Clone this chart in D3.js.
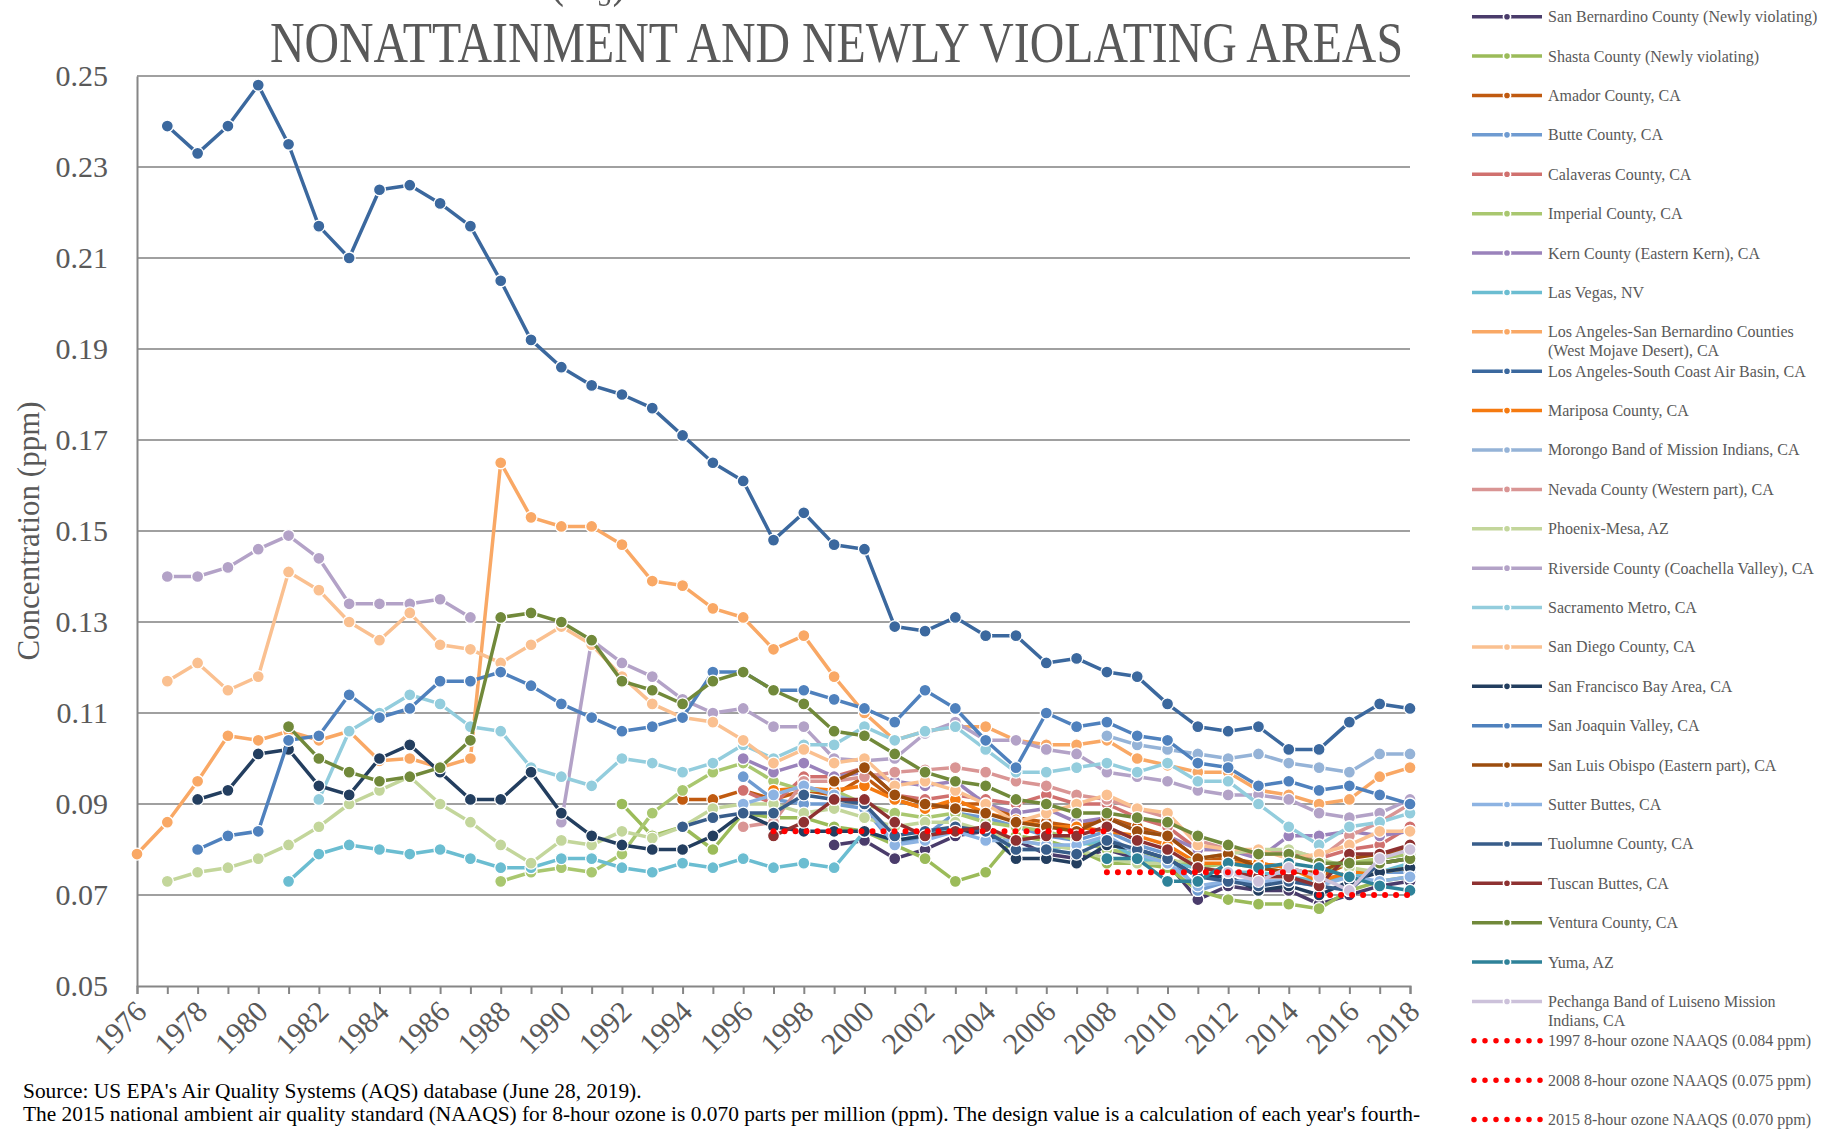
<!DOCTYPE html>
<html>
<head>
<meta charset="utf-8">
<script src="https://cdn.jsdelivr.net/npm/d3@7"></script>
<style>
  body { margin: 0; background: #fff; }
  text { font-family: "Liberation Serif", "Times New Roman", serif; }
</style>
</head>
<body>
<div id="chart"></div>
<script>
// ozone design values, nonattainment + newly violating areas

var years = d3.range(1976, 2019);
var xTickLabels = ["1976", "1978", "1980", "1982", "1984", "1986", "1988", "1990", "1992", "1994", "1996",
  "1998", "2000", "2002", "2004", "2006", "2008", "2010", "2012", "2014", "2016", "2018"];
var yTicks = [0.05, 0.07, 0.09, 0.11, 0.13, 0.15, 0.17, 0.19, 0.21, 0.23, 0.25];

// each series starts at its own first year (see seriesTable)
var sanBernardino = [.081, .082, .078, .080, .083, .084, .082, .079, .078, .080,
  .078, .077, .069, .072, .071, .071, .068, .070, .072, .073];
var shasta = [.090, .083, .085, .080, .088, .087, .087, .085, .084, .081,
  .078, .073, .075, .083, .082, .080, .077, .077, .076, .071,
  .069, .068, .068, .067, .071, .073, .074];
var amador = [.091, .091, .093, .091, .093, .092, .096, .091, .089, .090,
  .090, .087, .086, .085, .087, .085, .083, .078, .078, .077,
  .076, .074, .077, .077, .078];
var butte = [.096, .091, .090, .090, .089, .081, .083, .088, .087, .085,
  .083, .082, .084, .081, .079, .071, .073, .073, .073, .073,
  .075, .075, .075];
var calaveras = [.093, .090, .096, .096, .098, .092, .091, .092, .091, .090,
  .092, .090, .090, .087, .085, .080, .080, .079, .079, .078,
  .080, .081, .085];
var imperial = [.073, .075, .076, .075, .079, .088, .093, .097, .099, .095,
  .093, .093, .090, .088, .087, .088, .086, .085, .084, .082,
  .080, .079, .078, .076, .077, .076, .075, .075, .077, .078,
  .079];
var kern = [.100, .097, .099, .096, .097, .095, .094, .095, .090, .088,
  .089, .086, .087, .084, .083, .080, .080, .078, .083, .083,
  .084, .083, .084];
var lasVegas = [.073, .079, .081, .080, .079, .080, .078, .076, .076, .078,
  .078, .076, .075, .077, .076, .078, .076, .077, .076, .084,
  .082, .083, .085, .084, .080, .080, .081, .082, .078, .077,
  .076, .075, .075, .074, .073, .074, .075, .077];
var laWestMojave = [.079, .086, .095, .105, .104, .106, .104, .106, .0995, .100,
  .098, .100, .165, .153, .151, .151, .147, .139, .138, .133,
  .131, .124, .127, .118, .110, .104, .106, .107, .107, .104,
  .103, .103, .104, .100, .0985, .097, .097, .093, .092, .090,
  .091, .096, .098];
var laSouthCoast = [.239, .233, .239, .248, .235, .217, .210, .225, .226, .222,
  .217, .205, .192, .186, .182, .180, .177, .171, .165, .161,
  .148, .154, .147, .146, .129, .128, .131, .127, .127, .121,
  .122, .119, .118, .112, .107, .106, .107, .102, .102, .108,
  .112, .111];
var mariposa = [.093, .0935, .093, .094, .091, .089, .091, .088, .0865, .085,
  .085, .084, .083, .081, .077, .077, .077, .076, .073, .075,
  .075, .076];
var morongo = [.105, .103, .102, .101, .100, .101, .099, .098, .097, .101, .101];
var nevada = [.085, .086, .095, .095, .096, .097, .0975, .098, .097, .095,
  .094, .092, .091, .089, .087, .082, .080, .079, .080, .078,
  .083, .086, .090];
var phoenix = [.073, .075, .076, .078, .081, .085, .090, .093, .096, .090,
  .086, .081, .077, .082, .081, .084, .0825, .085, .089, .090,
  .090, .088, .089, .087, .085, .086, .086, .084, .082, .081,
  .080, .078, .077, .077, .078, .079, .080, .080, .078, .076,
  .075, .076];
var riverside = [.140, .140, .142, .146, .149, .144, .134, .134, .134, .135,
  .131, null, null, .086, .126, .121, .118, .113, .110, .111,
  .107, .107, .100, .0995, .100, .1055, .108, .104, .104, .102,
  .101, .097, .096, .095, .093, .092, .092, .091, .088, .087,
  .088, .091];
var sacramento = [.091, .106, .110, .114, .112, .107, .106, .098, .096, .094,
  .100, .099, .097, .099, .103, .100, .103, .103, .107, .104,
  .106, .107, .102, .097, .097, .098, .099, .097, .099, .095,
  .095, .090, .085, .081, .085, .086, .088];
var sanDiego = [.117, .121, .115, .118, .141, .137, .130, .126, .132, .125,
  .124, .121, .125, .129, .125, .118, .112, .109, .108, .104,
  .099, .102, .099, .100, .094, .095, .093, .090, .086, .088,
  .090, .092, .089, .088, .081, .080, .080, .078, .079, .081,
  .084, .084];
var sfBay = [.091, .093, .101, .102, .094, .092, .100, .103, .097, .091,
  .091, .097, .088, .083, .081, .080, .080, .083, .088, .085,
  .084, .084, .084, .082, .083, .084, .084, .078, .078, .077,
  .081, .080, .078, .074, .074, .071, .072, .070, .073, .075,
  .076];
var sanJoaquin = [.080, .083, .084, .104, .105, .114, .109, .111, .117, .117,
  .119, .116, .112, .109, .106, .107, .109, .119, .119, .115,
  .115, .113, .111, .108, .115, .111, .104, .098, .110, .107,
  .108, .105, .104, .099, .098, .094, .095, .093, .094, .092,
  .090];
var sanLuisObispo = [.095, .098, .092, .090, .089, .088, .086, .085, .084, .087,
  .084, .083, .078, .079, .076, .075, .075, .078, .079, .080];
var sutter = [.090, .092, .094, .092, .090, .081, .082, .084, .082, .082,
  .081, .081, .083, .079, .077, .072, .073, .073, .073, .072,
  .074, .073, .074];
var tuolumne = [.085, .087, .088, .088, .092, .091, .090, .083, .084, .085,
  .084, .080, .080, .079, .082, .080, .078, .074, .073, .072,
  .073, .072, .071, .077, .078];
var tuscan = [.083, .086, .091, .091, .086, .083, .084, .085, .082, .083,
  .083, .085, .082, .080, .076, .075, .074, .074, .072, .079,
  .079, .081];
var ventura = [.107, .100, .097, .095, .096, .098, .104, .131, .132, .130,
  .126, .117, .115, .112, .117, .119, .115, .112, .106, .105,
  .101, .097, .095, .094, .091, .090, .088, .088, .087, .086,
  .083, .081, .079, .079, .077, .077, .077, .078];
var yuma = [.078, .078, .073, .073, .077, .076, .077, .076, .074, .072, .071];
var pechanga = [.075, .073, .076, .074, .071, .078, .080];

// NAAQS reference lines: [value, fromYear, toYear]
var naaqs1997 = [0.084, 1997, 2008];
var naaqs2008 = [0.075, 2008, 2015];
var naaqs2015 = [0.070, 2015, 2018];

var seriesTable = [
  { name: "San Bernardino County (Newly violating)", color: "#4a3c6b", start: 1999, values: sanBernardino },
  { name: "Shasta County (Newly violating)", color: "#9bbb59", start: 1992, values: shasta },
  { name: "Amador County, CA", color: "#c05a10", start: 1994, values: amador },
  { name: "Butte County, CA", color: "#6f9bd1", start: 1996, values: butte },
  { name: "Calaveras County, CA", color: "#d0706e", start: 1996, values: calaveras },
  { name: "Imperial County, CA", color: "#a9c76f", start: 1988, values: imperial },
  { name: "Kern County (Eastern Kern), CA", color: "#9a82bb", start: 1996, values: kern },
  { name: "Las Vegas, NV", color: "#6bbdd1", start: 1981, values: lasVegas },
  { name: "Los Angeles-San Bernardino Counties\n(West Mojave Desert), CA", color: "#f9a865", start: 1976, values: laWestMojave },
  { name: "Los Angeles-South Coast Air Basin, CA", color: "#3b689e", start: 1977, values: laSouthCoast },
  { name: "Mariposa County, CA", color: "#f57a10", start: 1997, values: mariposa },
  { name: "Morongo Band of Mission Indians, CA", color: "#95b3d7", start: 2008, values: morongo },
  { name: "Nevada County (Western part), CA", color: "#d99594", start: 1996, values: nevada },
  { name: "Phoenix-Mesa, AZ", color: "#c3d69b", start: 1977, values: phoenix },
  { name: "Riverside County (Coachella Valley), CA", color: "#b3a2c7", start: 1977, values: riverside },
  { name: "Sacramento Metro, CA", color: "#93cddd", start: 1982, values: sacramento },
  { name: "San Diego County, CA", color: "#fac090", start: 1977, values: sanDiego },
  { name: "San Francisco Bay Area, CA", color: "#233e5f", start: 1978, values: sfBay },
  { name: "San Joaquin Valley, CA", color: "#4f81bd", start: 1978, values: sanJoaquin },
  { name: "San Luis Obispo (Eastern part), CA", color: "#9c4d0e", start: 1999, values: sanLuisObispo },
  { name: "Sutter Buttes, CA", color: "#8db3e2", start: 1996, values: sutter },
  { name: "Tuolumne County, CA", color: "#385d8a", start: 1994, values: tuolumne },
  { name: "Tuscan Buttes, CA", color: "#8e3131", start: 1997, values: tuscan },
  { name: "Ventura County, CA", color: "#71893a", start: 1981, values: ventura },
  { name: "Yuma, AZ", color: "#2e8299", start: 2008, values: yuma },
  { name: "Pechanga Band of Luiseno Mission\nIndians, CA", color: "#ccc1da", start: 2012, values: pechanga }
];
var refTable = [
  { name: "1997 8-hour ozone NAAQS (0.084 ppm)", def: naaqs1997 },
  { name: "2008 8-hour ozone NAAQS (0.075 ppm)", def: naaqs2008 },
  { name: "2015 8-hour ozone NAAQS (0.070 ppm)", def: naaqs2015 }
];

var titleTop = "OZONE (O\u2083) DESIGN VALUES";
var titleMain = "NONATTAINMENT AND NEWLY VIOLATING AREAS";
var sourceLines = [
  "Source: US EPA's Air Quality Systems (AQS) database (June 28, 2019).",
  "The 2015 national ambient air quality standard (NAAQS) for 8-hour ozone is 0.070 parts per million (ppm). The design value is a calculation of each year's fourth-"
];

var W = 1835, H = 1130;
var plot = { left: 137, right: 1410, top: 76, bottom: 986 };
var grey = "#595959";

var svg = d3.select("#chart").append("svg")
  .attr("width", W).attr("height", H)
  .style("background", "#fff");

var x = d3.scaleLinear().domain([1976, 2018]).range([plot.left, plot.right]);
var y = d3.scaleLinear().domain([0.05, 0.25]).range([plot.bottom, plot.top]);

// titles (first line sits mostly above the top edge, as in the original)
var t1 = svg.append("text")
  .attr("font-size", 58).attr("fill", grey)
  .text(titleTop);
var pre = t1.node().getSubStringLength(0, titleTop.indexOf("("));
t1.attr("transform", "translate(" + (549 - pre * 0.78) + ",-5) scale(0.78,1)");

svg.append("text")
  .attr("x", 270).attr("y", 62)
  .attr("font-size", 58).attr("fill", grey)
  .attr("textLength", 1133).attr("lengthAdjust", "spacingAndGlyphs")
  .text(titleMain);

// gridlines
svg.append("g").selectAll("line")
  .data(yTicks.slice(1))
  .join("line")
  .attr("x1", plot.left).attr("x2", plot.right)
  .attr("y1", d => y(d)).attr("y2", d => y(d))
  .attr("stroke", "#a0a0a0").attr("stroke-width", 2);

// y axis
var yAxis = svg.append("g")
  .attr("transform", "translate(" + plot.left + ",0)")
  .call(d3.axisLeft(y).tickValues(yTicks).tickFormat(d3.format(".2f")).tickSize(0).tickPadding(29));
yAxis.select(".domain").attr("stroke", "#868686").attr("stroke-width", 2);
yAxis.selectAll("text")
  .attr("font-family", "Liberation Serif, Times New Roman, serif")
  .attr("font-size", 30).attr("fill", grey);

// x axis (tick every year, label every other year)
var xAxis = svg.append("g")
  .attr("transform", "translate(0," + plot.bottom + ")")
  .call(d3.axisBottom(x).tickValues(years).tickSize(8).tickFormat(""));
xAxis.select(".domain").attr("stroke", "#868686").attr("stroke-width", 2);
xAxis.selectAll(".tick line").attr("stroke", "#868686").attr("stroke-width", 2);

svg.append("g").selectAll("text")
  .data(xTickLabels)
  .join("text")
  .attr("transform", d => "translate(" + (x(+d) + 4) + "," + (plot.bottom + 20) + ") rotate(-45)")
  .attr("text-anchor", "end")
  .attr("dy", "0.35em")
  .attr("font-size", 30).attr("fill", grey)
  .text(d => d);

svg.append("text")
  .attr("transform", "translate(28," + ((plot.top + plot.bottom) / 2) + ") rotate(-90)")
  .attr("text-anchor", "middle").attr("dominant-baseline", "central")
  .attr("font-size", 31).attr("fill", grey)
  .text("Concentration (ppm)");

// series
var line = d3.line()
  .defined(d => d.v != null)
  .x(d => x(d.year)).y(d => y(d.v));

seriesTable.forEach(function (s) {
  var pts = s.values.map((v, i) => ({ year: s.start + i, v: v }));
  var g = svg.append("g");
  g.append("path")
    .datum(pts)
    .attr("d", line)
    .attr("fill", "none")
    .attr("stroke", s.color)
    .attr("stroke-width", 3.5)
    .attr("stroke-linejoin", "round");
  g.selectAll("circle")
    .data(pts.filter(d => d.v != null))
    .join("circle")
    .attr("cx", d => x(d.year)).attr("cy", d => y(d.v))
    .attr("r", 6)
    .attr("fill", s.color)
    .attr("stroke", "#fff").attr("stroke-width", 1.3);
});

// NAAQS dotted lines
refTable.forEach(function (r) {
  svg.append("line")
    .attr("x1", x(r.def[1])).attr("x2", x(r.def[2]))
    .attr("y1", y(r.def[0])).attr("y2", y(r.def[0]))
    .attr("stroke", "#ff0000").attr("stroke-width", 6)
    .attr("stroke-linecap", "round").attr("stroke-dasharray", "0 11");
});

// legend
var legY0 = 16.7, legStep = 39.39;
var leg = svg.append("g");
seriesTable.concat(refTable).forEach(function (s, i) {
  var cy = legY0 + i * legStep;
  var g = leg.append("g");
  if (s.color) {
    g.append("line")
      .attr("x1", 1472).attr("x2", 1542).attr("y1", cy).attr("y2", cy)
      .attr("stroke", s.color).attr("stroke-width", 3.5);
    g.append("circle")
      .attr("cx", 1507).attr("cy", cy).attr("r", 3.6)
      .attr("fill", s.color).attr("stroke", "#fff").attr("stroke-width", 1.6);
  } else {
    g.append("line")
      .attr("x1", 1474).attr("x2", 1541).attr("y1", cy).attr("y2", cy)
      .attr("stroke", "#ff0000").attr("stroke-width", 5.5)
      .attr("stroke-linecap", "round").attr("stroke-dasharray", "0 11");
  }
  s.name.split("\n").forEach(function (ln, k) {
    g.append("text")
      .attr("x", 1548).attr("y", cy + k * 19)
      .attr("dominant-baseline", "central")
      .attr("font-size", 16).attr("fill", grey)
      .text(ln);
  });
});

// source note
svg.append("g").selectAll("text")
  .data(sourceLines)
  .join("text")
  .attr("x", 23).attr("y", (d, i) => 1098 + i * 23)
  .attr("font-size", 21.4).attr("fill", "#000")
  .text(d => d);
</script>
</body>
</html>
